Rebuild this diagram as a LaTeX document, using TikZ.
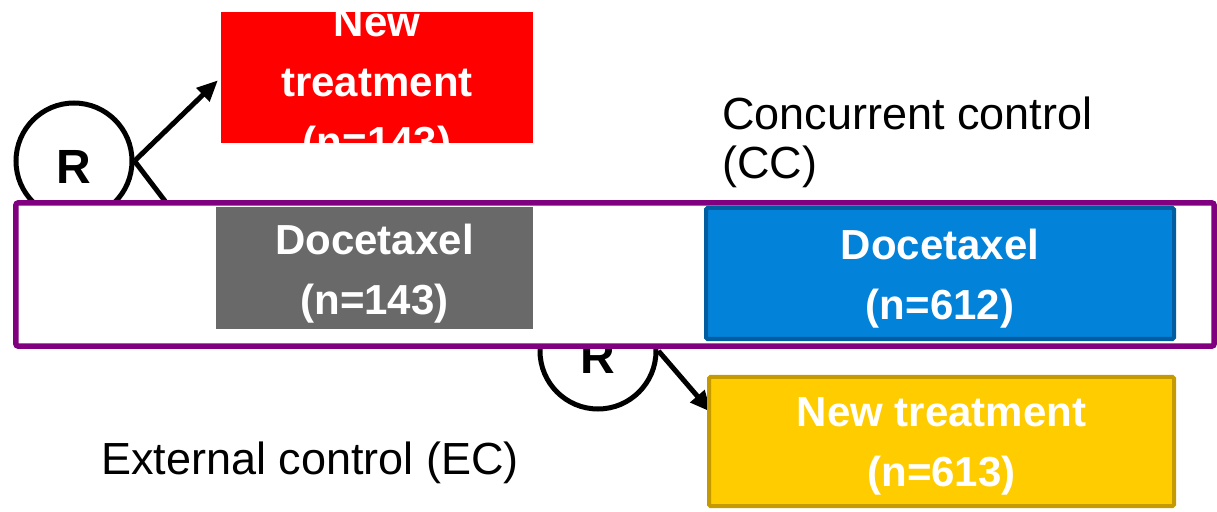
\documentclass[tikz,border=0pt]{standalone}
\usepackage{fontspec}
\setmainfont{Liberation Sans}
\usetikzlibrary{arrows.meta}
\definecolor{purplec}{RGB}{128,0,128}
\definecolor{grayc}{RGB}{105,105,105}
\definecolor{redc}{RGB}{255,0,0}
\definecolor{bluefill}{RGB}{3,130,218}
\definecolor{blueline}{RGB}{0,94,160}
\definecolor{yellowfill}{RGB}{255,204,0}
\definecolor{yellowline}{RGB}{196,154,0}
\begin{document}
\begin{tikzpicture}[x=1bp,y=-1bp,
  boxtext/.style={font=\fontsize{42bp}{60bp}\selectfont\bfseries, text=white, align=center, inner sep=0pt},
  armbox/.style={rectangle, inner sep=0pt},
  rcirc/.style={circle, draw=black, line width=5bp, fill=white, minimum size=116bp, inner sep=0pt, font=\fontsize{48bp}{48bp}\selectfont\bfseries},
  conn/.style={line width=5bp, -{Triangle[length=21bp,width=18bp]}},
  lbl/.style={font=\fontsize{45bp}{49bp}\selectfont, align=left, inner sep=0pt}
]
\useasboundingbox (0,0) rectangle (1217,512);

% top randomisation (concurrent)
\node[rcirc] (r1) at (74,161) {\raisebox{-6bp}[\height][0pt]{R}};
\node[armbox, fill=redc, minimum width=312bp, minimum height=131bp] (red) at (377,77.5) {};
\begin{scope}
  \clip (red.south west) rectangle (red.north east);
  \node[boxtext] (redtext) at (377,86) {New\\treatment\\(n=143)};
\end{scope}
\draw[conn, shorten >=4bp] (r1.east) -- (red.west);
\coordinate (graywest) at (216,268);
\draw[conn] (r1.east) -- (graywest);

% bottom randomisation (external)
\node[rcirc] (r2) at (598,351) {\raisebox{-6bp}[\height][0pt]{R}};
\coordinate (ytip) at (711,412);
\draw[conn] (r2.east) -- (ytip);

% control frame
\node[draw=purplec, line width=5.5bp, fill=white, rounded corners=2bp, inner sep=0pt,
      minimum width=1198bp, minimum height=143bp] (frame) at (615,274.5) {};

\node[armbox, fill=grayc, minimum width=317bp, minimum height=122bp] (gray) at (374.5,268) {};
\node[boxtext] (graytext) at ([yshift=-6bp]gray.center) {Docetaxel\\(n=143)};
\node[armbox, fill=bluefill, draw=blueline, line width=4bp, rounded corners=1.5bp,
      minimum width=468bp, minimum height=131bp] (blue) at (940,273.5) {};
\node[boxtext] (bluetext) at ([yshift=-5bp]blue.center) {Docetaxel\\(n=612)};
\node[armbox, fill=yellowfill, draw=yellowline, line width=4bp, rounded corners=1.5bp,
      minimum width=465bp, minimum height=129bp] (yellow) at (941.5,441.5) {};
\node[boxtext] (yellowtext) at ([yshift=-5bp]yellow.center) {New treatment\\(n=613)};

\node[lbl, anchor=base west] (cctext) at (722,179) {Concurrent control\\(CC)};
\node[lbl, anchor=base west] (ectext) at (101,474) {External control (EC)};
\end{tikzpicture}
\end{document}
